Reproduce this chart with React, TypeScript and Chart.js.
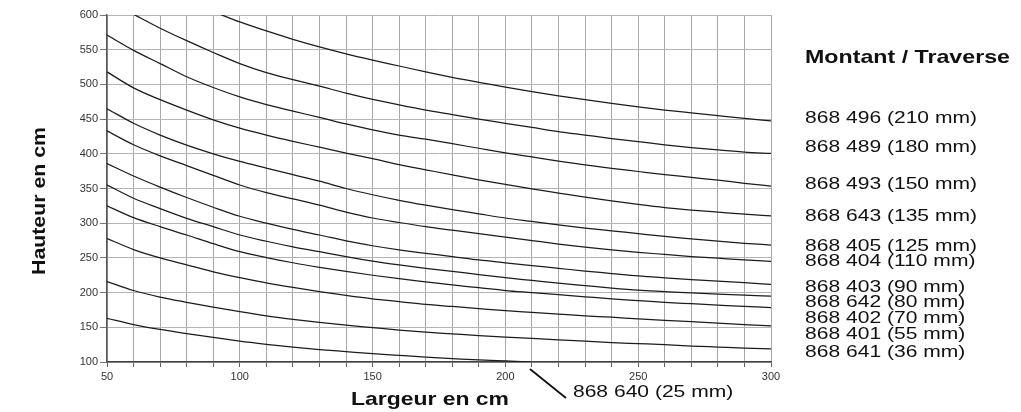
import React, { useEffect, useRef } from "react";
import { Chart, registerables } from "chart.js";

Chart.register(...registerables);

// Largeur en cm (x)
const widths = [50, 60, 70, 80, 90, 100, 110, 120, 130, 140, 150, 160, 170, 180, 190, 200, 210, 220, 230, 240, 250, 260, 270, 280, 290, 300];

// Hauteur en cm (y), one array per profile
const h210 = [null, null, null, null, 605, 590, 577, 565, 554, 544, 535, 526.5, 518, 510, 503, 496, 489.5, 483.5, 478, 472.5, 467.5, 463, 459, 455, 451, 447.5];
const h180 = [null, 601, 581, 563, 546, 530, 517, 507, 497.5, 487.5, 478.5, 470.5, 463, 456.5, 450, 444, 438, 432, 427, 422, 417.5, 413, 409, 405.5, 402.5, 400.5];
const h150 = [571, 549, 530, 511, 495.5, 482, 471, 461.5, 452.5, 443, 434.5, 427, 421, 414.5, 408, 401.5, 395.5, 389.5, 384, 379, 374.5, 370, 366, 362, 357.5, 353.5];
const h135 = [518, 495, 478, 463, 449, 437, 427, 418, 409.5, 401, 393, 384.5, 377, 369.5, 362.5, 356, 349.5, 343.5, 337.5, 332, 327, 322.5, 319, 316, 313, 310.5];
const h125 = [465, 444, 427, 412.5, 400, 389, 379.5, 370, 360.5, 350, 341, 333, 326, 319.5, 313.5, 307.5, 302.5, 297.5, 293, 289, 285, 281, 277.5, 274, 271, 268.5];
const h110 = [433, 413, 397, 383, 369, 355, 344, 335, 326, 316, 307.5, 301, 295, 290, 285, 280, 275, 270, 265.5, 261.5, 258, 255, 252, 249.5, 247, 245];
const h90 = [386, 368, 352, 337, 323, 310, 300, 291, 283, 274.5, 267.5, 261.5, 256.5, 252, 247, 243, 239, 235, 231, 227.5, 224, 221.3, 218.8, 216.5, 214.2, 212];
const h80 = [355, 336, 321, 307, 295, 283, 274, 266, 259, 252, 245.5, 240, 235, 230.5, 226, 221.5, 217.5, 213.5, 210, 206.5, 203.5, 201.5, 199.5, 197.8, 196.3, 195];
const h70 = [325, 308, 295, 283, 270.5, 259, 250.5, 243, 236.5, 230.5, 225, 220, 215.5, 211, 207, 203, 200, 197, 194, 191, 188.5, 186, 184, 182, 180, 178.5];
const h55 = [278, 262, 250, 240, 230, 221.5, 214, 207.5, 201.5, 196, 191, 187, 183, 180, 177, 174, 171.5, 169, 166.5, 164.5, 162, 160, 158, 156, 154, 152];
const h36 = [216, 203, 193.5, 186, 179, 172.5, 166.5, 161.5, 157, 153, 149.5, 146, 143, 140.5, 138, 136, 134, 132, 130, 128, 126.5, 125, 123, 121.5, 120, 119];
const h25 = [163, 154, 147, 141, 135.5, 130, 125.5, 121.5, 118, 115, 112, 109.5, 107, 105, 103, 101.5, 100, null, null, null, null, null, null, null, null, null];

const seriesValues = [h210, h180, h150, h135, h125, h110, h90, h80, h70, h55, h36, h25];
const seriesLabels = [
  "868 496 (210 mm)",
  "868 489 (180 mm)",
  "868 493 (150 mm)",
  "868 643 (135 mm)",
  "868 405 (125 mm)",
  "868 404 (110 mm)",
  "868 403 (90 mm)",
  "868 642 (80 mm)",
  "868 402 (70 mm)",
  "868 401 (55 mm)",
  "868 641 (36 mm)",
  "868 640 (25 mm)",
];

const xTitle = "Largeur en cm";
const yTitle = "Hauteur en cm";
const legendTitle = "Montant / Traverse";

// layout of the right-hand label column (pixel rows)
const legendRowY = [118.5, 147, 184, 216.5, 246, 261.5, 287, 302.5, 318, 334.5, 352];

const FAMILY = '"Liberation Sans", Arial, Helvetica, sans-serif';

function drawScaled(ctx: CanvasRenderingContext2D, text: string, x: number, y: number, sx: number) {
  ctx.save();
  ctx.translate(x, y);
  ctx.scale(sx, 1);
  ctx.fillText(text, 0, 0);
  ctx.restore();
}

const annotationPlugin = {
  id: "annotations",
  afterDraw(chart: any) {
    const ctx: CanvasRenderingContext2D = chart.ctx;
    const xs = chart.scales.x;
    const ys = chart.scales.y;
    ctx.save();
    ctx.fillStyle = "#111";
    ctx.textAlign = "left";

    // legend title
    ctx.font = `bold 19px ${FAMILY}`;
    ctx.textBaseline = "middle";
    let s = 205 / ctx.measureText(legendTitle).width;
    drawScaled(ctx, legendTitle, 805, 58, s);

    // legend items
    ctx.font = `16.5px ${FAMILY}`;
    const sItem = 172 / ctx.measureText(seriesLabels[0]).width;
    legendRowY.forEach((y, i) => {
      drawScaled(ctx, seriesLabels[i], 805, y, sItem);
    });

    // callout for the 25 mm curve
    const lastIdx = h25.reduce((acc: number, v, i) => (v !== null ? i : acc), 0);
    const ax = xs.getPixelForValue(widths[lastIdx]);
    const ay = ys.getPixelForValue(h25[lastIdx] as number);
    ctx.strokeStyle = "#111";
    ctx.lineWidth = 1.8;
    ctx.beginPath();
    ctx.moveTo(ax - 2, ay + 7);
    ctx.lineTo(ax + 34, ay + 36);
    ctx.stroke();
    drawScaled(ctx, seriesLabels[11], ax + 41, ay + 30, sItem);

    // x title
    ctx.font = `bold 18.5px ${FAMILY}`;
    ctx.textBaseline = "alphabetic";
    s = 158 / ctx.measureText(xTitle).width;
    drawScaled(ctx, xTitle, 351, 405, s);

    // y title (rotated)
    ctx.textBaseline = "middle";
    ctx.textAlign = "center";
    const sy = 148 / ctx.measureText(yTitle).width;
    ctx.save();
    ctx.translate(40, 201);
    ctx.rotate(-Math.PI / 2);
    ctx.scale(sy, 1);
    ctx.fillText(yTitle, 0, 0);
    ctx.restore();

    ctx.restore();
  },
};

export default function App() {
  const canvasRef = useRef<HTMLCanvasElement | null>(null);

  useEffect(() => {
    if (!canvasRef.current) return;
    const datasets = seriesValues.map((vals, si) => ({
      label: seriesLabels[si],
      data: widths
        .map((w, i) => ({ x: w, y: vals[i] }))
        .filter((p) => p.y !== null),
      borderColor: "#1c1c1c",
      borderWidth: 1.25,
      pointRadius: 0,
      fill: false,
      cubicInterpolationMode: "monotone" as const,
      clip: 0,
    }));

    const chart = new Chart(canvasRef.current, {
      type: "line",
      data: { datasets },
      options: {
        responsive: false,
        animation: false,
        devicePixelRatio: 1,
        layout: { padding: { left: 0, right: 250, top: 15, bottom: 0 } },
        plugins: {
          legend: { display: false },
          tooltip: { enabled: false },
        },
        scales: {
          x: {
            type: "linear",
            min: 50,
            max: 300,
            afterFit: (scale: any) => {
              scale.height = 50;
            },
            ticks: {
              stepSize: 10,
              autoSkip: false,
              maxRotation: 0,
              padding: 3,
              color: "#333",
              font: { family: FAMILY, size: 11 },
              callback: (v: any) => (Number(v) % 50 === 0 ? String(v) : ""),
            },
            grid: {
              color: "#a8a8a8",
              lineWidth: 1,
              drawTicks: true,
              tickLength: 5,
              tickColor: "#666",
            },
            border: { color: "#444", width: 1.5 },
          },
          y: {
            min: 100,
            max: 600,
            afterFit: (scale: any) => {
              scale.width = 107;
            },
            ticks: {
              stepSize: 50,
              padding: 2,
              color: "#333",
              font: { family: FAMILY, size: 11 },
            },
            grid: {
              color: "#b4b4b4",
              lineWidth: 1,
              drawTicks: true,
              tickLength: 7,
              tickColor: "#777",
            },
            border: { color: "#555", width: 1.5 },
          },
        },
      },
      plugins: [annotationPlugin],
    });
    return () => chart.destroy();
  }, []);

  return (
    <div style={{ position: "absolute", left: 0, top: 0, width: 1021, height: 412, background: "#fff" }}>
      <canvas ref={canvasRef} width={1021} height={412} style={{ width: 1021, height: 412, display: "block" }} />
    </div>
  );
}
